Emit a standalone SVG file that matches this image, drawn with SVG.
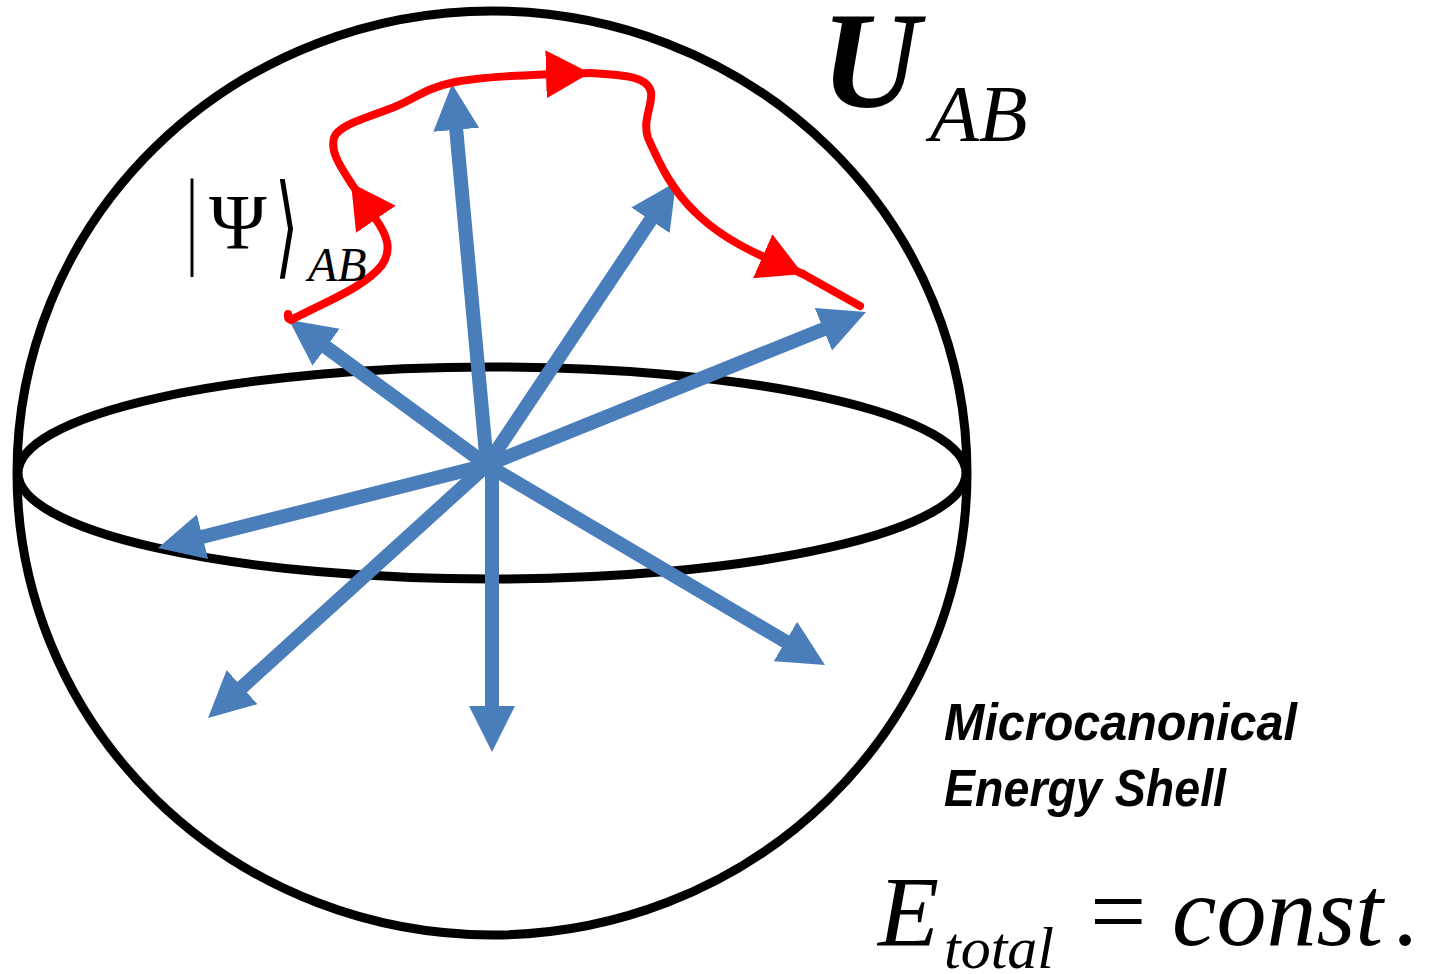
<svg xmlns="http://www.w3.org/2000/svg" width="1430" height="974" viewBox="0 0 1430 974">
<style>
.shell{fill:none;stroke:#000;stroke-width:9}
.vec{fill:none;stroke:#4a7ebb;stroke-width:14;marker-end:url(#blueHead)}
.traj{fill:none;stroke:#ff0000;stroke-width:8;stroke-linecap:round;stroke-linejoin:round}
.mid{marker-end:url(#redHead)}
.math{font-family:"Liberation Serif","Times New Roman",serif;fill:#000}
.it{font-style:italic}
.lbl{font-family:"Liberation Sans",Arial,sans-serif;font-weight:bold;font-style:italic;fill:#000}
</style>
<defs>
<marker id="blueHead" markerUnits="userSpaceOnUse" viewBox="0 0 46 46" refX="8" refY="23" markerWidth="46" markerHeight="46" orient="auto">
<path d="M0,0 L46,23 L0,46 Z" fill="#4a7ebb"/>
</marker>
<marker id="redHead" markerUnits="userSpaceOnUse" viewBox="0 0 44 48" refX="44" refY="24" markerWidth="44" markerHeight="48" orient="auto">
<path d="M0,0 L44,24 L0,48 Z" fill="#ff0000"/>
</marker>
</defs>
<rect width="1430" height="974" fill="#fff"/>
<g id="sphere">
<ellipse class="shell" cx="492" cy="473" rx="475" ry="462"/>
<ellipse class="shell" cx="492" cy="473" rx="474" ry="106"/>
</g>
<g id="connectors">
<g id="state-vectors">
<line class="vec" x1="487" y1="465" x2="455.5" y2="121.8"/>
<line class="vec" x1="487" y1="465" x2="654.9" y2="213.6"/>
<line class="vec" x1="487" y1="465" x2="830.8" y2="326.2"/>
<line class="vec" x1="487" y1="465" x2="319.7" y2="342.5"/>
<line class="vec" x1="487" y1="465" x2="194.8" y2="538.7"/>
<line class="vec" x1="487" y1="465" x2="236.2" y2="692.5"/>
<line class="vec" x1="492" y1="462" x2="492" y2="714"/>
<line class="vec" x1="487" y1="465" x2="792.3" y2="645.6"/>
</g>
<g id="trajectory">
<path class="traj" d="M288,314 Q287,322 294,318"/>
<path class="traj mid" d="M291,320 C325,302 365,287 382,265 C392,250 388,236 375,218 L351,183"/>
<path class="traj mid" d="M351,183 C341,167 330,152 334,138 C338,126 360,120 392,108 C415,99 425,88 455,82 C480,77 520,75 590,73"/>
<path class="traj mid" d="M590,73 C630,75 648,78 651,92 C653,105 642,120 648,138 C660,165 672,190 695,212 C715,232 740,246 762,256 L803,274"/>
<path class="traj" d="M803,274 L860,306"/>
</g>
</g>
<g id="label-psi">
<text class="math" transform="translate(186,254) scale(0.6,1.07)" font-size="100">|</text>
<text class="math" x="209" y="248" font-size="78">Ψ</text>
<text transform="translate(275,264) scale(0.6,1.12)" font-family="DejaVu Sans,sans-serif" font-size="100" fill="#000">⟩</text>
<text class="math it" x="308" y="281" font-size="48">AB</text>
</g>
<g id="label-U">
<text class="math it" x="821" y="107" font-size="137" font-weight="bold">U</text>
<text class="math it" x="930" y="141" font-size="80">AB</text>
</g>
<g id="label-shell">
<text class="lbl" x="944" y="740" font-size="52" textLength="353" lengthAdjust="spacingAndGlyphs">Microcanonical</text>
<text class="lbl" x="944" y="806" font-size="52" textLength="282" lengthAdjust="spacingAndGlyphs">Energy Shell</text>
</g>
<g id="label-energy">
<text class="math it" x="878" y="945" font-size="100">E</text>
<text class="math it" x="944" y="968" font-size="60">total</text>
<text class="math" x="1090" y="945" font-size="100">=</text>
<text class="math it" x="1172" y="945" font-size="100">const<tspan dx="12">.</tspan></text>
</g>
</svg>
